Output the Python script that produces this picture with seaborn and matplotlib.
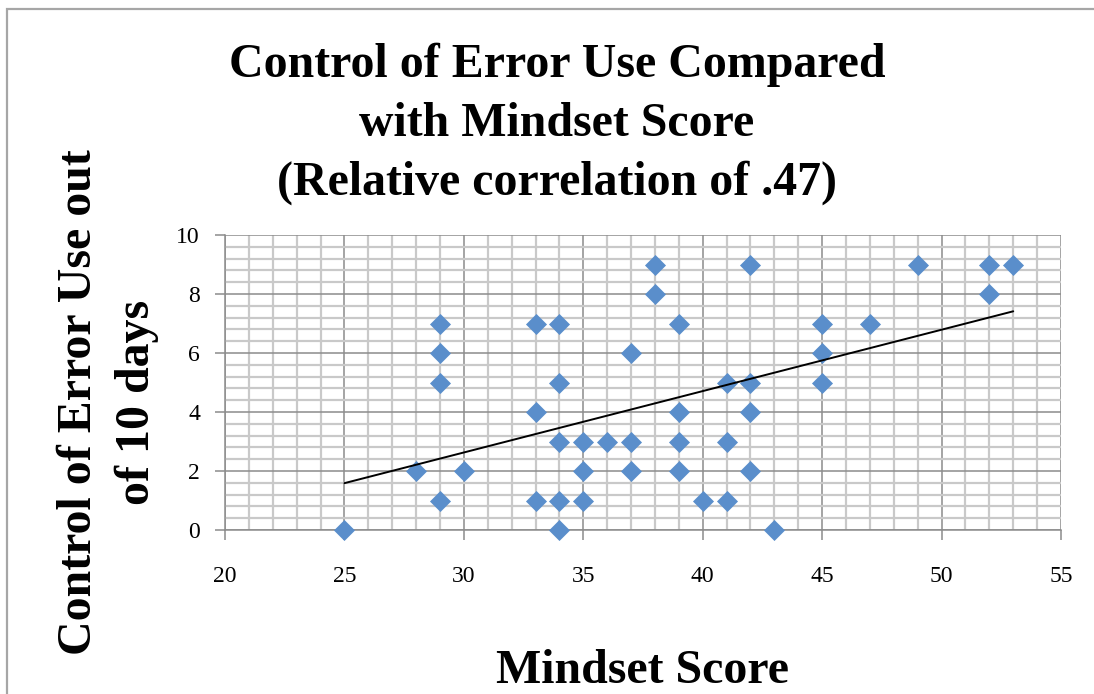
import numpy as np
import pandas as pd
import seaborn as sns
from matplotlib import pyplot as plt
from matplotlib.patches import Rectangle
from matplotlib.ticker import MultipleLocator

sns.set_theme(style="white")
plt.rcParams["font.family"] = ["Liberation Serif", "DejaVu Serif"]
plt.rcParams["text.color"] = "black"

# mindset score vs days (out of 10) the control of error was used
mindset = [25, 28, 29, 29, 29, 29, 30, 33, 33, 33, 34, 34, 34, 34, 34,
           35, 35, 35, 36, 37, 37, 37, 38, 38, 39, 39, 39, 39, 40,
           41, 41, 41, 42, 42, 42, 42, 43, 45, 45, 45, 47, 49, 52, 52, 53]
error_use = [0, 2, 7, 6, 5, 1, 2, 7, 4, 1, 7, 5, 3, 1, 0,
             3, 2, 1, 3, 6, 3, 2, 9, 8, 7, 4, 3, 2, 1,
             5, 3, 1, 9, 5, 4, 2, 0, 7, 6, 5, 7, 9, 9, 8, 9]
df = pd.DataFrame({"mindset": mindset, "error_use": error_use})

title = "Control of Error Use Compared\nwith Mindset Score\n(Relative correlation of .47)"
ylabel = "Control of Error Use out\nof 10 days"
xlabel = "Mindset Score"

W, H = 1094, 694
fig = plt.figure(figsize=(W / 100, H / 100), dpi=100)
ax = fig.add_axes([225 / W, 1 - 530 / H, 836 / W, 295 / H])

# outer chart border (only top and left are inside the picture)
fig.patches.append(Rectangle((7 / W, -0.1), 1.2, 1 - 9 / H + 0.1,
                             transform=fig.transFigure, fill=False,
                             edgecolor="#a6a6a6", lw=1.6))

sns.regplot(data=df, x="mindset", y="error_use", ax=ax, ci=None, marker="D",
            scatter_kws={"s": 115, "color": "#5a8ecb", "alpha": 1,
                         "linewidths": 0, "zorder": 3, "clip_on": False},
            line_kws={"color": "black", "lw": 1.4, "zorder": 4})

ax.set_xlim(20, 55)
ax.set_ylim(0, 10)
ax.xaxis.set_major_locator(MultipleLocator(5))
ax.yaxis.set_major_locator(MultipleLocator(2))
ax.xaxis.set_minor_locator(MultipleLocator(1))
ax.yaxis.set_minor_locator(MultipleLocator(0.4))
ax.grid(which="minor", color="#c9c9c9", lw=1.6, zorder=0)
ax.grid(which="major", color="#8c8c8c", lw=1.1, zorder=1)
ax.set_axisbelow(True)
for side in ["top", "right"]:
    ax.spines[side].set_visible(False)
for side in ["left", "bottom"]:
    ax.spines[side].set_color("#8c8c8c")
    ax.spines[side].set_linewidth(1.1)
ax.tick_params(which="major", direction="out", length=7, width=1.1, color="#8c8c8c",
               labelsize=17, labelcolor="black", bottom=True, left=True)
ax.tick_params(axis="x", pad=19)
ax.tick_params(axis="y", pad=11)
ax.tick_params(which="minor", length=0)
ax.set_xlabel("")
ax.set_ylabel("")
ax.patch.set_alpha(0)

fig.text(557 / W, 1 - 124 / H, title, ha="center", va="center",
         fontsize=34.5, fontweight="bold", linespacing=1.42)
fig.text(108 / W, 1 - 402 / H, ylabel, ha="center", va="center", rotation=90,
         fontsize=34.5, fontweight="bold", linespacing=1.42)
fig.text(643 / W, 1 - 693 / H, xlabel, ha="center", va="bottom",
         fontsize=34.5, fontweight="bold")

fig.savefig("out.png", dpi=100)
